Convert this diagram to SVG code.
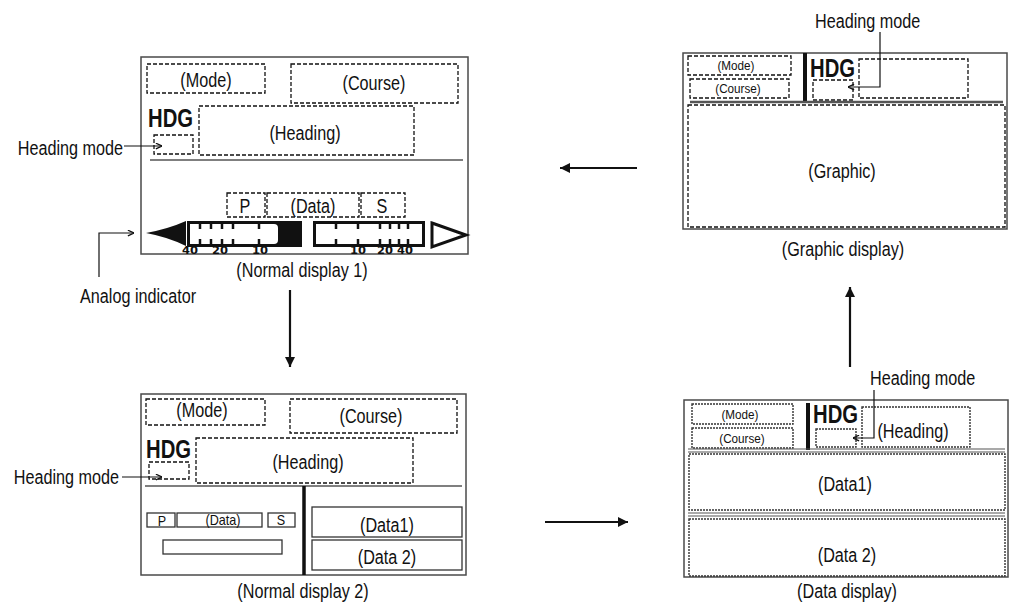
<svg xmlns="http://www.w3.org/2000/svg" width="1009" height="607" viewBox="0 0 1009 607">
<defs>
<style>
.frame{fill:none;stroke:#4a4a4a;stroke-width:1.5}
.dash{fill:none;stroke:#111;stroke-width:1.3;stroke-dasharray:4 2}
.dot{fill:none;stroke:#333;stroke-width:1.4;stroke-dasharray:2 1}
.solid{fill:none;stroke:#333;stroke-width:1.3}
.rule{stroke:#555;stroke-width:1.5}
.thick{stroke:#111;stroke-width:3.5}
.t{font-family:"Liberation Sans",Arial,sans-serif;font-size:20px;fill:#111;text-anchor:middle}
.s{font-size:14px}
.xs{font-size:13px}
.st{text-anchor:start}
.en{text-anchor:end}
.hdg{font-family:"Liberation Sans",Arial,sans-serif;font-weight:bold;font-size:26px;fill:#111}
.num{font-family:"DejaVu Sans",sans-serif;font-weight:bold;font-size:10px;fill:#111;text-anchor:middle}
.bar{fill:#fff;stroke:#111;stroke-width:3}
.tick{stroke:#111;stroke-width:2.5}
.conn{fill:none;stroke:#111;stroke-width:2.2}
.lead{fill:none;stroke:#111;stroke-width:1.2}
</style>
<marker id="ah" viewBox="0 0 10 10" refX="10" refY="5" markerWidth="12" markerHeight="10" markerUnits="userSpaceOnUse" orient="auto">
<path d="M0,0 L10,5 L0,10 z" fill="#111"/>
</marker>
<marker id="sh" viewBox="0 0 8 8" refX="7.5" refY="4" markerWidth="7" markerHeight="7" markerUnits="userSpaceOnUse" orient="auto">
<path d="M0.5,0.8 L7.5,4 L0.5,7.2" fill="none" stroke="#111" stroke-width="1.5"/>
</marker>
</defs>
<rect width="1009" height="607" fill="#fff"/>

<g id="normal-display-1">
<rect class="frame" x="141" y="57" width="327" height="197"/>
<rect class="dash" x="147" y="64" width="118" height="29"/>
<text class="t" transform="translate(206 87) scale(0.81 1)">(Mode)</text>
<rect class="dash" x="291" y="64" width="167" height="39"/>
<text class="t" transform="translate(374 90) scale(0.81 1)">(Course)</text>
<text class="hdg" transform="translate(148 127) scale(0.78 1)">HDG</text>
<rect class="dash" x="199" y="106" width="215" height="49"/>
<text class="t" transform="translate(305 140) scale(0.81 1)">(Heading)</text>
<rect class="dash" x="154" y="135" width="39" height="19"/>
<line class="rule" x1="150" y1="160" x2="463" y2="160"/>
<rect class="dash" x="227" y="193" width="38" height="24"/>
<rect class="dash" x="267" y="193" width="92" height="24"/>
<rect class="dash" x="361" y="193" width="44" height="24"/>
<text class="t" transform="translate(245 213) scale(0.81 1)">P</text>
<text class="t" transform="translate(313 213) scale(0.81 1)">(Data)</text>
<text class="t" transform="translate(382 213) scale(0.81 1)">S</text>
<path d="M146,233 Q168,229 186,221 L186,246 Q168,237 146,233 Z" fill="#111"/>
<rect class="bar" x="188.5" y="222.5" width="112" height="23"/>
<rect x="272" y="222" width="29" height="24" fill="#111"/>
<rect x="190" y="224" width="88" height="20" rx="4" fill="#fff"/>
<rect class="bar" x="314.5" y="222.5" width="109" height="23"/>
<path d="M432,223 L466,235 L432,247 Z" class="bar"/>
<g class="tick">
<line x1="200" y1="223" x2="200" y2="229"/><line x1="200" y1="239" x2="200" y2="245"/>
<line x1="211" y1="223" x2="211" y2="229"/><line x1="211" y1="239" x2="211" y2="245"/>
<line x1="222" y1="223" x2="222" y2="229"/><line x1="222" y1="239" x2="222" y2="245"/>
<line x1="233" y1="223" x2="233" y2="229"/><line x1="233" y1="239" x2="233" y2="245"/>
<line x1="259" y1="223" x2="259" y2="229"/><line x1="259" y1="239" x2="259" y2="245"/>
<line x1="336" y1="223" x2="336" y2="229"/><line x1="336" y1="239" x2="336" y2="245"/>
<line x1="358" y1="223" x2="358" y2="229"/><line x1="358" y1="239" x2="358" y2="245"/>
<line x1="380" y1="223" x2="380" y2="229"/><line x1="380" y1="239" x2="380" y2="245"/>
<line x1="390" y1="223" x2="390" y2="229"/><line x1="390" y1="239" x2="390" y2="245"/>
<line x1="399" y1="223" x2="399" y2="229"/><line x1="399" y1="239" x2="399" y2="245"/>
<line x1="408" y1="223" x2="408" y2="229"/><line x1="408" y1="239" x2="408" y2="245"/>
</g>
<text class="num" transform="translate(190 254) scale(1.15 1)">40</text>
<text class="num" transform="translate(220 254) scale(1.15 1)">20</text>
<text class="num" transform="translate(260 254) scale(1.15 1)">10</text>
<text class="num" transform="translate(358 254) scale(1.15 1)">10</text>
<text class="num" transform="translate(385 254) scale(1.15 1)">20</text>
<text class="num" transform="translate(405 254) scale(1.15 1)">40</text>
<text class="t" transform="translate(302 277) scale(0.81 1)">(Normal display 1)</text>
</g>

<g id="normal-display-2">
<rect class="frame" x="141" y="394" width="325" height="181"/>
<rect class="dash" x="146" y="399" width="119" height="26"/>
<text class="t" transform="translate(202 417) scale(0.81 1)">(Mode)</text>
<rect class="dash" x="290" y="399" width="167" height="34"/>
<text class="t" transform="translate(371 423) scale(0.81 1)">(Course)</text>
<text class="hdg" transform="translate(146 458) scale(0.78 1)">HDG</text>
<rect class="dash" x="196" y="438" width="217" height="45"/>
<text class="t" transform="translate(308 469) scale(0.81 1)">(Heading)</text>
<rect class="dash" x="149" y="462" width="40" height="17"/>
<line class="rule" x1="145" y1="486" x2="462" y2="486"/>
<line class="thick" x1="304" y1="486" x2="304" y2="575"/>
<rect class="solid" x="147" y="513" width="28" height="14"/>
<rect class="solid" x="177" y="513" width="85" height="14"/>
<rect class="solid" x="268" y="513" width="27" height="14"/>
<text class="t s" transform="translate(162 526) scale(0.9 1)">P</text>
<text class="t s" transform="translate(223 525) scale(0.9 1)">(Data)</text>
<text class="t s" transform="translate(281 525) scale(0.9 1)">S</text>
<rect class="solid" x="163" y="540" width="119" height="14"/>
<rect class="solid" x="312" y="507" width="150" height="30"/>
<text class="t" transform="translate(387 532) scale(0.81 1)">(Data1)</text>
<rect class="solid" x="312" y="540" width="150" height="30"/>
<text class="t" transform="translate(387 564) scale(0.81 1)">(Data 2)</text>
<text class="t" transform="translate(303 598) scale(0.81 1)">(Normal display 2)</text>
</g>

<g id="graphic-display">
<rect class="frame" x="683" y="53" width="324" height="176"/>
<rect class="dash" x="688" y="56" width="103" height="19"/>
<text class="t xs" transform="translate(736 70) scale(0.9 1)">(Mode)</text>
<rect class="dash" x="690" y="79" width="99" height="19"/>
<text class="t xs" transform="translate(738 93) scale(0.9 1)">(Course)</text>
<line class="thick" x1="805" y1="53" x2="805" y2="102" style="stroke-width:4"/>
<text class="hdg" transform="translate(810 77) scale(0.78 1)">HDG</text>
<rect class="dash" x="859" y="59" width="109" height="39"/>
<rect class="dash" x="813" y="80" width="40" height="20"/>
<line class="rule" x1="690" y1="102" x2="1003" y2="102" style="stroke-width:2.5"/>
<rect class="dash" x="688" y="105" width="317" height="122"/>
<text class="t" transform="translate(842 178) scale(0.81 1)">(Graphic)</text>
<text class="t" transform="translate(843 256) scale(0.81 1)">(Graphic display)</text>
</g>

<g id="data-display">
<rect class="frame" x="684" y="400" width="324" height="177"/>
<rect class="dot" x="692" y="404" width="101" height="20"/>
<text class="t xs" transform="translate(740 419) scale(0.9 1)">(Mode)</text>
<rect class="dot" x="692" y="428" width="101" height="20"/>
<text class="t xs" transform="translate(742 443) scale(0.9 1)">(Course)</text>
<line class="thick" x1="808" y1="403" x2="808" y2="450" style="stroke-width:4"/>
<text class="hdg" transform="translate(813 423) scale(0.78 1)">HDG</text>
<rect class="dot" x="862" y="407" width="108" height="40"/>
<text class="t" transform="translate(913 438) scale(0.81 1)">(Heading)</text>
<rect class="dot" x="816" y="429" width="40" height="18"/>
<line class="rule" x1="688" y1="449" x2="1005" y2="449" style="stroke-width:1.2"/>
<line class="rule" x1="688" y1="452" x2="1005" y2="452" style="stroke-width:1.2"/>
<rect class="dot" x="689" y="454" width="316" height="56"/>
<text class="t" transform="translate(845 491) scale(0.81 1)">(Data1)</text>
<line class="rule" x1="688" y1="513" x2="1005" y2="513" style="stroke-width:1.2"/>
<line class="rule" x1="688" y1="516" x2="1005" y2="516" style="stroke-width:1.2"/>
<rect class="dot" x="689" y="519" width="316" height="57"/>
<text class="t" transform="translate(847 562) scale(0.81 1)">(Data 2)</text>
<text class="t" transform="translate(847 598) scale(0.81 1)">(Data display)</text>
</g>

<g id="labels">
<text class="t en" transform="translate(123 155) scale(0.81 1)">Heading mode</text>
<text class="t en" transform="translate(119 484) scale(0.81 1)">Heading mode</text>
<text class="t st" transform="translate(80 303) scale(0.81 1)">Analog indicator</text>
<text class="t st" transform="translate(815 28) scale(0.81 1)">Heading mode</text>
<text class="t st" transform="translate(870 385) scale(0.81 1)">Heading mode</text>
</g>

<g id="connectors">
<line class="conn" x1="637" y1="168" x2="560" y2="168" marker-end="url(#ah)"/>
<line class="conn" x1="290" y1="290" x2="290" y2="367" marker-end="url(#ah)"/>
<line class="conn" x1="545" y1="522" x2="628" y2="522" marker-end="url(#ah)"/>
<line class="conn" x1="850" y1="367" x2="850" y2="287" marker-end="url(#ah)"/>
<path class="lead" d="M124,146 H162" marker-end="url(#sh)"/>
<path class="lead" d="M122,477 H162" marker-end="url(#sh)"/>
<path class="lead" d="M99,277 V233 H134" marker-end="url(#sh)"/>
<path class="lead" d="M880,32 V87 H848" marker-end="url(#sh)"/>
<path class="lead" d="M874,390 V438 H853" marker-end="url(#sh)"/>
</g>
</svg>
